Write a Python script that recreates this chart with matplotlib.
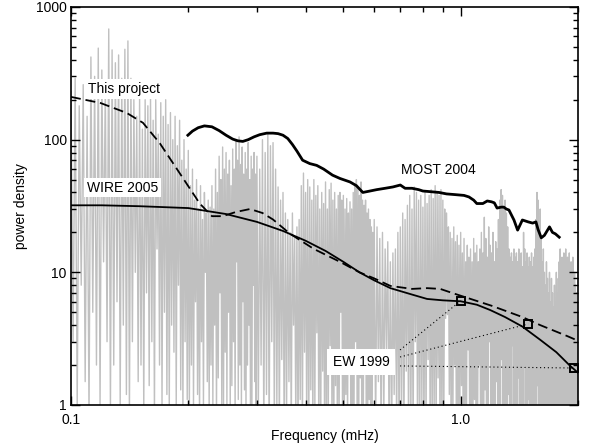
import numpy as np
import matplotlib
matplotlib.use('Agg')
import matplotlib.pyplot as plt
from matplotlib.ticker import FixedLocator, NullFormatter, FixedFormatter

plt.rcParams['font.family'] = ['Liberation Sans', 'DejaVu Sans']
plt.rcParams['font.size'] = 10

# gray periodogram, read as peak / trough pairs on three frequency grids
# 0.1 - 0.3 mHz, step 0.0025
peaks_a = [230, 290, 180, 260, 150, 420, 300, 490, 335, 250,
           683, 475, 380, 435, 290, 480, 555, 290, 200, 150,
           210, 120, 200, 180, 210, 140, 200, 110, 190, 150,
           200, 130, 160, 100, 150, 90, 140, 70, 100, 60,
           83, 45, 60, 35, 50, 30, 45, 25, 40, 28,
           35, 31, 45, 30, 60, 40, 75, 50, 88, 60,
           80, 55, 70, 45, 85, 60, 100, 70, 105, 65,
           88, 55, 80, 60, 95, 50, 75, 60, 80, 55]
troughs_a = [3, 1, 8, 1.5, 0.8, 5, 2, 1, 12, 3, 0.9, 2, 6, 1, 4, 1.2, 0.8, 3, 10, 1.5,
             2, 0.9, 7, 1.4, 3, 0.8, 15, 2, 1, 5, 1.2, 0.9, 4, 2.5, 1, 8, 1.3, 0.9, 3, 1.1,
             0.9, 2, 1, 6, 1.2, 0.8, 3, 1, 10, 1.5, 0.9, 2, 1, 4, 0.8, 1.6, 7, 1, 0.9, 2.5,
             1, 5, 0.9, 1.4, 3, 0.8, 12, 1.1, 2, 0.9, 6, 1.3, 0.8, 2, 4, 1, 0.9, 8, 1.5, 1]
# 0.3 - 0.6 mHz, step 0.005
peaks_b = [75, 60, 100, 80, 110, 90, 95, 60, 44, 35,
           40, 28, 25, 20, 28, 18, 22, 25, 45, 56,
           40, 50, 44, 35, 50, 38, 45, 30, 40, 33,
           48, 30, 42, 47, 35, 40, 30, 38, 40, 35,
           38, 30, 36, 28, 34, 30, 40, 45, 50, 44,
           38, 48, 35, 32, 35, 28, 30, 25, 22, 20]
troughs_b = [0.8, 2.0, 0.6, 1.2, 0.5, 3.0, 0.7, 1.0, 0.6, 2.2,
             0.5, 0.9, 1.5, 0.6, 4.0, 0.7, 0.5, 1.1, 0.6, 2.5,
             0.8, 0.5, 1.3, 0.6, 0.9, 3.5, 0.5, 0.7, 1.8, 0.6,
             0.5, 1.0, 2.8, 0.6, 0.5, 1.4, 0.7, 0.6, 5.0, 0.8,
             0.5, 1.2, 0.6, 2.0, 0.7, 0.5, 0.9, 3.0, 0.6, 0.5,
             1.6, 0.7, 0.6, 2.4, 0.5, 0.8, 1.1, 0.6, 0.5, 1.9]
# 0.6 - 2.0 mHz, step 0.01
peaks_c = [25, 22, 18, 20, 15, 17, 12, 14, 15, 20,
           22, 28, 25, 32, 38, 30, 44, 40, 35, 38,
           31, 40, 33, 38, 42, 36, 45, 40, 38, 42,
           35, 30, 28, 22, 20, 18, 22, 17, 19, 16,
           20, 14, 18, 12, 16, 13, 15, 12, 18, 14,
           16, 12, 15, 20, 14, 26, 18, 13, 22, 16,
           14, 20, 12, 17, 15, 25, 35, 42, 38, 30,
           35, 28, 22, 15, 13, 14, 12, 15, 13, 14,
           12, 15, 13, 14, 11, 20, 15, 12, 14, 11,
           13, 12, 14, 11, 13, 15, 25, 40, 35, 20,
           30, 18, 12, 15, 10, 8, 12, 9, 7, 10,
           6, 9, 7, 5.5, 8, 6, 10, 7, 9, 12,
           15, 11, 13, 10, 14, 12, 15, 11, 13, 10,
           14, 11, 12, 10, 13, 9, 10, 8, 7, 6]
troughs_c = [0.6, 1.5, 0.5, 0.8, 2.5, 0.6, 0.5, 1.2, 0.7, 0.5,
             0.8, 0.5, 1.8, 0.6, 0.7, 0.5, 3.0, 0.6, 0.5, 1.0,
             0.5, 0.7, 2.2, 0.6, 0.5, 0.9, 0.6, 1.6, 0.5, 0.7,
             0.6, 4.5, 4.8, 1.2, 0.5, 0.7, 2.0, 0.6, 0.5, 0.8,
             1.4, 0.5, 0.6, 0.9, 2.6, 0.5, 0.7, 0.6, 1.1, 0.5,
             0.6, 2.0, 0.5, 0.8, 0.6, 1.3, 0.5, 0.7, 3.0, 0.6,
             0.5, 0.9, 0.6, 1.5, 0.5, 0.7, 0.6, 2.2, 0.5, 0.8,
             0.6, 0.5, 1.2, 0.7, 0.5, 2.8, 0.6, 0.5, 0.9, 0.6,
             1.6, 0.5, 0.7, 0.6, 0.5, 2.0, 0.8, 0.5, 0.6, 1.1,
             0.5, 0.7, 2.4, 0.6, 0.5, 0.8, 0.6, 1.4, 0.5, 0.7,
             0.6, 0.5, 1.8, 0.7, 0.5, 0.6, 3.2, 0.5, 0.8, 0.6,
             0.5, 1.3, 0.6, 0.5, 0.7, 2.0, 0.6, 0.5, 0.9, 0.6,
             0.5, 0.7, 1.7, 0.6, 0.5, 0.8, 0.6, 2.6, 0.5, 0.7,
             0.6, 0.5, 1.0, 0.7, 0.5, 1.9, 0.6, 0.5, 0.8, 0.6]

# MOST 2004
most_f = [0.1995, 0.205, 0.212, 0.22, 0.23, 0.24, 0.25, 0.26, 0.268, 0.276,
          0.285, 0.295, 0.305, 0.318, 0.33, 0.34, 0.35, 0.36, 0.37, 0.38,
          0.393, 0.41, 0.427, 0.445, 0.469, 0.49, 0.52, 0.54, 0.561, 0.585,
          0.609, 0.64, 0.67, 0.70, 0.72, 0.75, 0.78, 0.80, 0.84, 0.88,
          0.92, 0.97, 1.02, 1.05, 1.08, 1.10, 1.14, 1.17, 1.20, 1.22,
          1.24, 1.27, 1.29, 1.31, 1.33, 1.37, 1.40, 1.44, 1.49, 1.53,
          1.56, 1.58, 1.61, 1.64, 1.69, 1.72, 1.75, 1.79]
most_p = [108, 116, 123, 127, 125, 117, 108, 101, 98, 97,
          100, 105, 109, 112, 112, 111, 108, 102, 92, 82,
          70, 66, 64, 60, 54, 51, 48, 45, 40, 41,
          42, 43, 44, 45.5, 43, 43, 42, 41, 40.5, 40,
          39, 38.5, 38, 37, 35, 33, 33, 34.5, 34, 33.4,
          30.5, 31, 31, 30, 29.5, 24.8, 20.8, 24.8, 24, 23.5,
          24, 21, 18.2, 19, 22, 20, 19.5, 18.4]

# WIRE 2005
wire_f = [0.1, 0.12, 0.15, 0.2, 0.25, 0.3, 0.35, 0.4, 0.45, 0.5, 0.55, 0.6,
          0.66, 0.75, 0.82, 0.9, 1.0, 1.1, 1.19, 1.3, 1.44, 1.6, 1.76, 1.9, 2.0]
wire_p = [32, 32, 31.5, 30.5, 27.5, 24, 20.5, 17.3, 14.5, 12, 10, 8.7,
          7.6, 6.8, 6.3, 6.15, 6.05, 5.7, 5.2, 4.6, 3.9, 3.1, 2.5, 2.0, 1.75]

# This project
proj_f = [0.1, 0.119, 0.139, 0.153, 0.169, 0.19, 0.214, 0.23, 0.245, 0.265,
          0.288, 0.31, 0.33, 0.365, 0.42, 0.49, 0.55, 0.6, 0.66, 0.75,
          0.82, 0.886, 0.95, 1.01, 1.2, 1.44, 1.6, 1.88, 2.0]
proj_p = [210, 189, 159, 134, 94, 56, 33, 26.5, 26.5, 28.5,
          30, 28, 25, 19.5, 15, 12, 10, 9, 7.9, 7.5,
          7.6, 7.5, 7.0, 6.6, 5.6, 4.6, 4.0, 3.3, 3.05]

# EW 1999
ew_f = [1.0, 1.49, 1.95]
ew_p = [6.1, 4.08, 1.9]


def zigzag(f0, step, peaks, troughs):
    fp = f0 + step * np.arange(len(peaks))
    f = np.column_stack([fp, fp + step / 2]).ravel()
    p = np.column_stack([peaks, troughs]).ravel()
    return f, p


fa, pa = zigzag(0.1, 0.0025, peaks_a, troughs_a)
fb, pb = zigzag(0.3, 0.005, peaks_b, troughs_b)
fc, pc = zigzag(0.6, 0.01, peaks_c, troughs_c)
spec_f = np.concatenate([fa, fb, fc])
spec_p = np.concatenate([pa, pb, pc])

fig = plt.figure(figsize=(5.89, 4.45), dpi=100)
ax = fig.add_axes([0.1205, 0.0899, 0.8608, 0.8944])

ax.plot(spec_f, spec_p, color='#c0c0c0', lw=1.0, zorder=1)
ax.plot(most_f, most_p, color='black', lw=2.0, zorder=3)
ax.plot(wire_f, wire_p, color='black', lw=1.3, zorder=3)
ax.plot(proj_f, proj_p, color='black', lw=1.3, dashes=(5.5, 2.7), zorder=3)
ax.plot(ew_f, ew_p, ls='none', marker='s', ms=6, mfc='none', mec='black', mew=1.4, zorder=4)

# dotted pointers from the EW 1999 label
start_f = 0.699
start_p = [2.6, 2.3, 1.97]
for i in range(len(ew_f)):
    ax.plot([start_f, ew_f[i]], [start_p[i], ew_p[i]], color='black', lw=0.8,
            ls=(0, (1, 2.5)), zorder=3)

box = dict(facecolor='white', edgecolor='none', pad=2)
ax.text(0.1105, 241, 'This project', va='center', ha='left', bbox=box, zorder=5)
ax.text(0.110, 43.5, 'WIRE 2005', va='center', ha='left', bbox=box, zorder=5)
ax.text(0.7015, 59, 'MOST 2004', va='center', ha='left', zorder=5)
ax.text(0.469, 2.11, 'EW 1999', va='center', ha='left',
        bbox=dict(facecolor='white', edgecolor='none', pad=4), zorder=5)

ax.set_xscale('log')
ax.set_yscale('log')
ax.set_xlim(0.1, 2.0)
ax.set_ylim(1, 1000)

ax.xaxis.set_major_locator(FixedLocator([0.1, 1.0]))
ax.xaxis.set_major_formatter(FixedFormatter(['0.1', '1.0']))
ax.xaxis.set_minor_locator(FixedLocator([0.2, 0.3, 0.4, 0.5, 0.6, 0.7, 0.8, 0.9, 2.0]))
ax.xaxis.set_minor_formatter(NullFormatter())
ax.yaxis.set_major_locator(FixedLocator([1, 10, 100, 1000]))
ax.yaxis.set_major_formatter(FixedFormatter(['1', '10', '100', '1000']))
yminor = [m * d for d in [1, 10, 100] for m in range(2, 10)]
ax.yaxis.set_minor_locator(FixedLocator(yminor))
ax.yaxis.set_minor_formatter(NullFormatter())

ax.tick_params(which='both', direction='in', top=True, right=True, width=1.0)
ax.tick_params(which='major', length=6.5)
ax.tick_params(which='minor', length=3.6)
ax.tick_params(axis='x', pad=6)
ax.tick_params(axis='y', pad=3)
for s in ax.spines.values():
    s.set_linewidth(1.2)

ax.set_xlabel('Frequency (mHz)', va='center')
ax.xaxis.set_label_coords(0.501, -0.078)
ax.set_ylabel('power density', labelpad=6)

fig.savefig('out.png', dpi=100)
